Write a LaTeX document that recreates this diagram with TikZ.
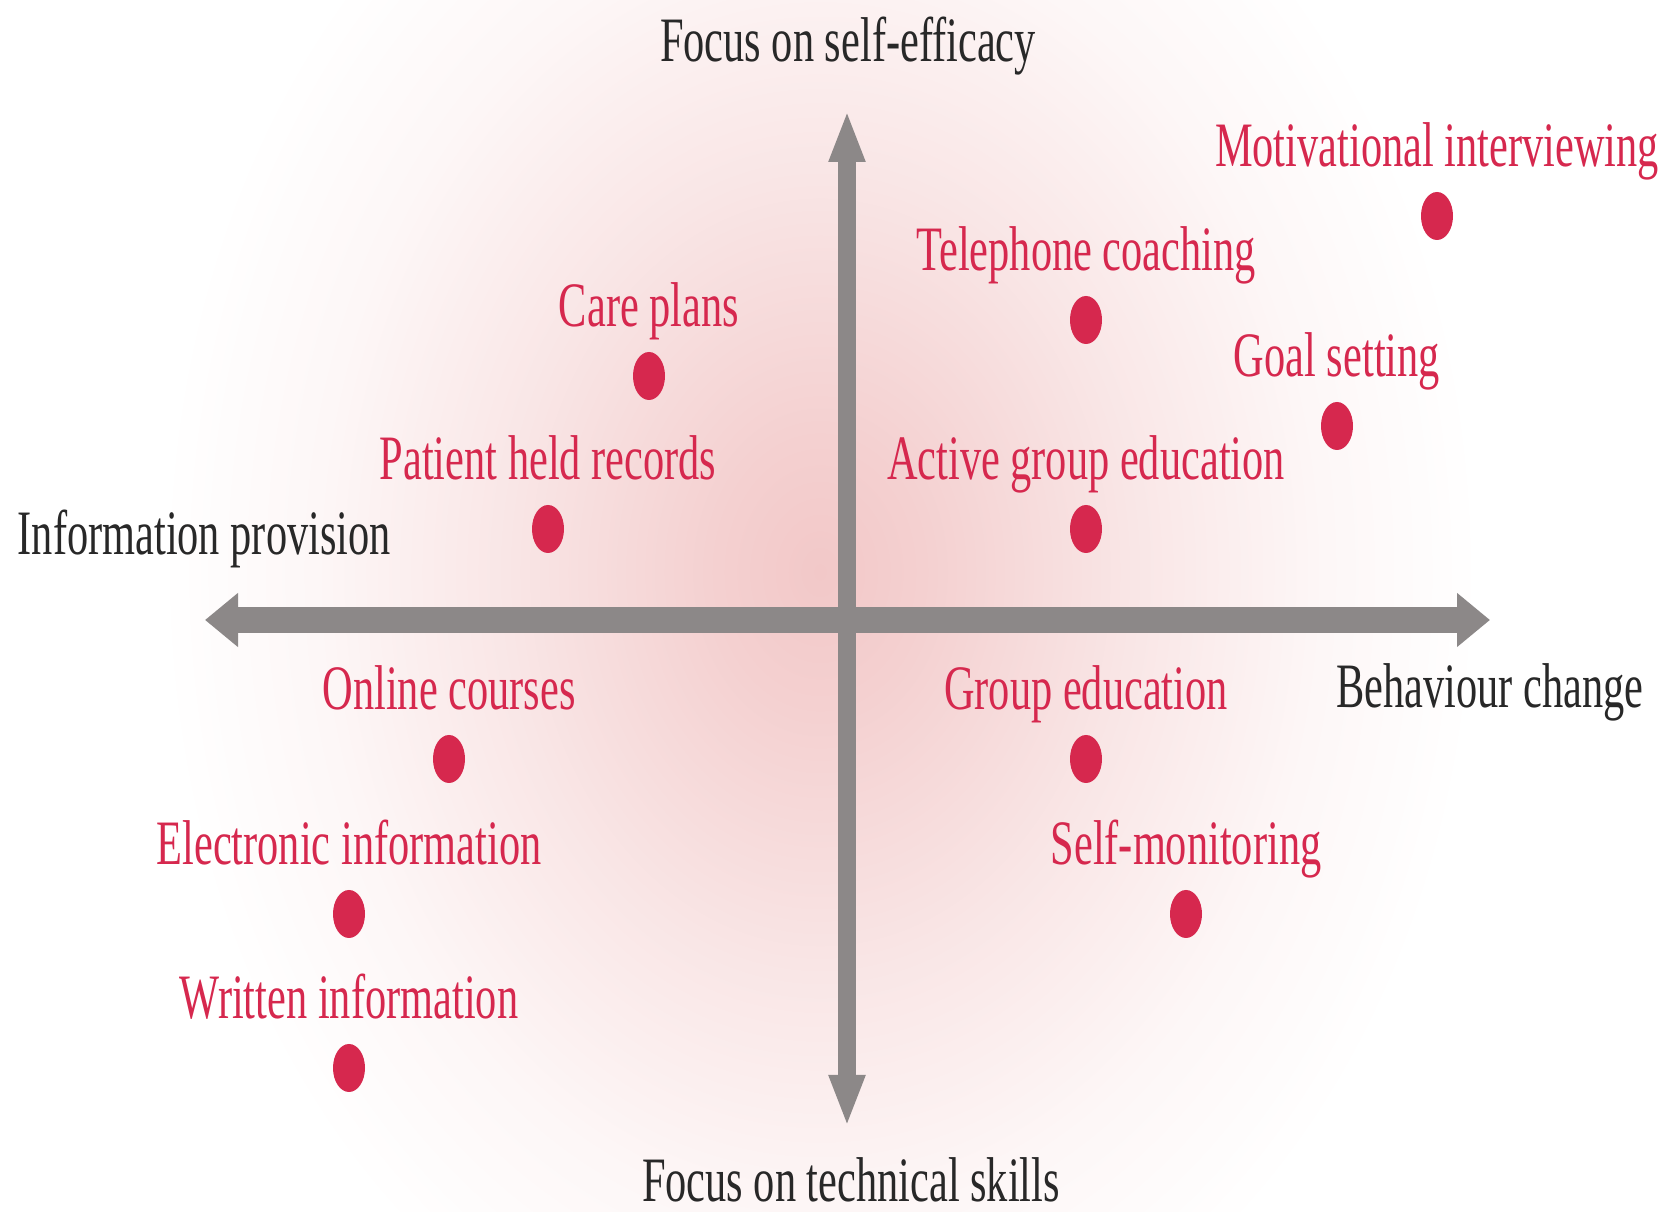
\documentclass[tikz,border=0pt]{standalone}
\usepackage{fontspec}
\setmainfont{Liberation Serif}[FakeStretch=0.67]
\usetikzlibrary{positioning,arrows.meta,shapes.geometric}

\definecolor{accent}{RGB}{214,40,78}
\definecolor{axisgray}{RGB}{140,136,136}
\definecolor{glowpink}{RGB}{242,200,200}
\definecolor{inkdark}{RGB}{40,40,40}

% soft pink glow behind the axes (path edge sits at 25bp)
\pgfdeclareradialshading{glow}{\pgfpoint{0bp}{0bp}}{%
  color(0bp)=(glowpink); color(4bp)=(glowpink!85!white);
  color(12bp)=(glowpink!45!white); color(19bp)=(glowpink!15!white);
  color(25bp)=(white); color(50bp)=(white)}

\tikzset{
  dot/.style={ellipse, fill=accent, inner sep=0pt, minimum width=0.32cm, minimum height=0.48cm},
  item/.style={text=accent, font=\fontsize{18}{20}\selectfont, inner sep=0pt},
  axislabel/.style={text=inkdark, font=\fontsize{18}{20}\selectfont, inner sep=0pt, anchor=base},
  haxis/.style={axisgray, line width=0.26cm,
    {Triangle[length=0.33cm,width=0.52cm]}-{Triangle[length=0.33cm,width=0.52cm]}},
  vaxis/.style={axisgray, line width=0.18cm,
    {Triangle[length=0.52cm,width=0.33cm]}-{Triangle[length=0.52cm,width=0.33cm]}},
}

\begin{document}
\begin{tikzpicture}
  \useasboundingbox (0,0) rectangle (16.70,12.12);
  \fill[white] (0,0) rectangle (16.70,12.12);
  \begin{scope}
    \clip (0,0) rectangle (16.70,12.12);
    \shade[shading=glow] (8.2,6.4) ellipse (6.6 and 8.5);
  \end{scope}

  % axes
  \coordinate (west) at (2.05,5.92);
  \coordinate (east) at (14.90,5.92);
  \coordinate (north) at (8.47,11.02);
  \coordinate (south) at (8.47,0.85);
  \draw[haxis] (west) -- (east);
  \draw[vaxis] (south) -- (north);

  % axis labels
  \node[axislabel] (selfeff) at (8.48,11.50) {Focus on self-efficacy};
  \node[axislabel] (technical) at (8.51,0.10) {Focus on technical skills};
  \node[axislabel, anchor=base west] (info) at (0.17,6.57) {Information provision};
  \node[axislabel] (behaviour) at (14.90,5.04) {Behaviour change};

  % interventions
  \foreach \x/\y/\n/\t in {
      14.37/9.96/motiv/Motivational interviewing,
      10.86/8.92/phone/Telephone coaching,
      6.49/8.36/care/Care plans,
      13.37/7.86/goal/Goal setting,
      5.48/6.83/records/Patient held records,
      10.86/6.83/active/Active group education,
      4.49/4.53/online/Online courses,
      10.86/4.53/group/Group education,
      3.49/2.98/electronic/Electronic information,
      11.86/2.98/selfmon/Self-monitoring,
      3.49/1.44/written/Written information}{
    \node[dot] (\n) at (\x,\y) {};
    \node[item, above=0.49cm of \n.center, anchor=base] (\n-txt) {\t};
  }
\end{tikzpicture}
\end{document}
